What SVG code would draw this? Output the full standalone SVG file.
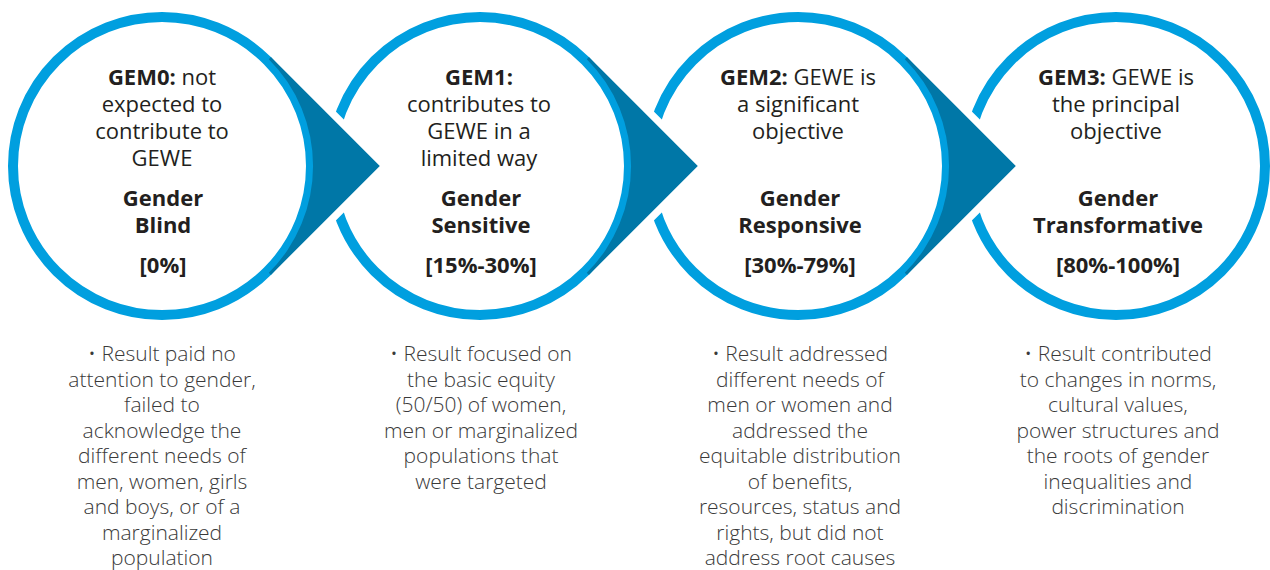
<svg xmlns="http://www.w3.org/2000/svg" width="1270" height="570" viewBox="0 0 1270 570">
<style>
.ring{fill:#ffffff;stroke:#009fdf;stroke-width:10}
.arrow{fill:#0077a7;stroke:none}
.gap{fill:none;stroke:#ffffff;stroke-width:15;stroke-linejoin:miter}
.t{font-family:"Open Sans","Liberation Sans",sans-serif;font-size:22px;fill:#231f20;text-anchor:middle}
.b{font-weight:700}
.d{font-family:"Open Sans","Liberation Sans",sans-serif;font-size:21px;font-weight:300;fill:#3a3a3a;text-anchor:middle}
</style>
<rect width="1270" height="570" fill="#ffffff"/>
<g id="gem3">
<circle class="ring" cx="1116" cy="166" r="149"/>
<text class="t"><tspan x="1116" y="85"><tspan class="b">GEM3:</tspan> GEWE is</tspan><tspan x="1116" y="112">the principal</tspan><tspan x="1116" y="139">objective</tspan></text>
<text class="t b"><tspan x="1118" y="206">Gender</tspan><tspan x="1118" y="233">Transformative</tspan><tspan x="1118" y="273">[80%-100%]</tspan></text>
<text class="d"><tspan x="1118" y="361">• Result contributed</tspan><tspan x="1118" y="386.5">to changes in norms,</tspan><tspan x="1118" y="412">cultural values,</tspan><tspan x="1118" y="437.5">power structures and</tspan><tspan x="1118" y="463">the roots of gender</tspan><tspan x="1118" y="488.5">inequalities and</tspan><tspan x="1118" y="514">discrimination</tspan></text>
</g>
<g id="gem2">
<circle class="ring" cx="798" cy="166" r="149"/>
<text class="t"><tspan x="798" y="85"><tspan class="b">GEM2:</tspan> GEWE is</tspan><tspan x="798" y="112">a significant</tspan><tspan x="798" y="139">objective</tspan></text>
<text class="t b"><tspan x="800" y="206">Gender</tspan><tspan x="800" y="233">Responsive</tspan><tspan x="800" y="273">[30%-79%]</tspan></text>
<text class="d"><tspan x="800" y="361">• Result addressed</tspan><tspan x="800" y="386.5">different needs of</tspan><tspan x="800" y="412">men or women and</tspan><tspan x="800" y="437.5">addressed the</tspan><tspan x="800" y="463">equitable distribution</tspan><tspan x="800" y="488.5">of benefits,</tspan><tspan x="800" y="514">resources, status and</tspan><tspan x="800" y="539.5">rights, but did not</tspan><tspan x="800" y="565">address root causes</tspan></text>
</g>
<g id="gem1">
<circle class="ring" cx="480" cy="166" r="149"/>
<text class="t"><tspan x="479" y="85" class="b">GEM1:</tspan><tspan x="479" y="112">contributes to</tspan><tspan x="479" y="139">GEWE in a</tspan><tspan x="479" y="166">limited way</tspan></text>
<text class="t b"><tspan x="481" y="206">Gender</tspan><tspan x="481" y="233">Sensitive</tspan><tspan x="481" y="273">[15%-30%]</tspan></text>
<text class="d"><tspan x="481" y="361">• Result focused on</tspan><tspan x="481" y="386.5">the basic equity</tspan><tspan x="481" y="412">(50/50) of women,</tspan><tspan x="481" y="437.5">men or marginalized</tspan><tspan x="481" y="463">populations that</tspan><tspan x="481" y="488.5">were targeted</tspan></text>
</g>
<g id="gem0">
<circle class="ring" cx="162" cy="166" r="149"/>
<text class="t"><tspan x="162" y="85"><tspan class="b">GEM0:</tspan> not</tspan><tspan x="162" y="112">expected to</tspan><tspan x="162" y="139">contribute to</tspan><tspan x="162" y="166">GEWE</tspan></text>
<text class="t b"><tspan x="163" y="206">Gender</tspan><tspan x="163" y="233">Blind</tspan><tspan x="163" y="273">[0%]</tspan></text>
<text class="d"><tspan x="162" y="361">• Result paid no</tspan><tspan x="162" y="386.5">attention to gender,</tspan><tspan x="162" y="412">failed to</tspan><tspan x="162" y="437.5">acknowledge the</tspan><tspan x="162" y="463">different needs of</tspan><tspan x="162" y="488.5">men, women, girls</tspan><tspan x="162" y="514">and boys, or of a</tspan><tspan x="162" y="539.5">marginalized</tspan><tspan x="162" y="565">population</tspan></text>
</g>
<g id="connectors">
<polyline class="gap" points="320,106.2 379.8,166 320,225.8"/>
<path class="arrow" d="M270.9,57.1 L379.8,166 L270.9,274.9 L268.8,272.8 A151,151 0 0 0 268.8,59.2 Z"/>
<polyline class="gap" points="638,106.2 697.8,166 638,225.8"/>
<path class="arrow" d="M588.9,57.1 L697.8,166 L588.9,274.9 L586.8,272.8 A151,151 0 0 0 586.8,59.2 Z"/>
<polyline class="gap" points="956,106.2 1015.8,166 956,225.8"/>
<path class="arrow" d="M906.9,57.1 L1015.8,166 L906.9,274.9 L904.8,272.8 A151,151 0 0 0 904.8,59.2 Z"/>
</g>
</svg>
